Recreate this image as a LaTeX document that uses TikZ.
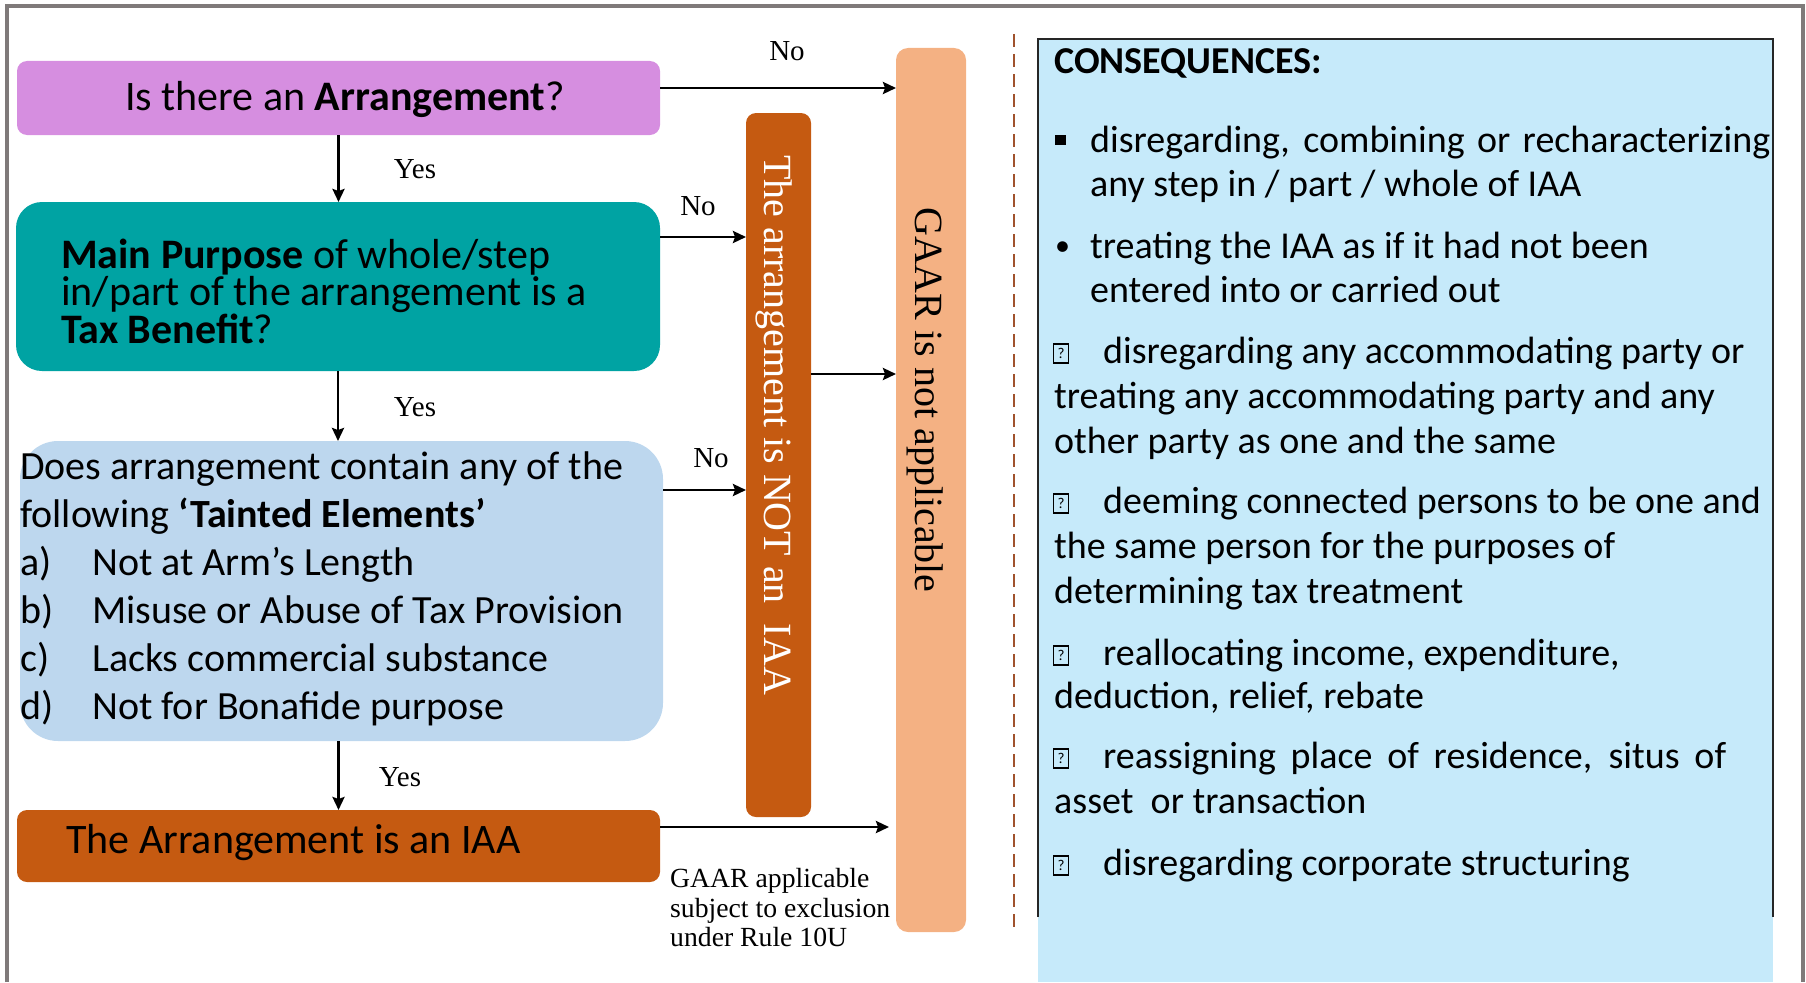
\documentclass[tikz,border=0pt]{standalone}
\usepackage{fontspec}
\setmainfont{Liberation Serif}
\newfontfamily\calfont{Carlito}
\usetikzlibrary{arrows.meta}
\definecolor{pinkbox}{RGB}{214,142,224}
\definecolor{tealbox}{RGB}{0,163,163}
\definecolor{bluebox}{RGB}{189,215,238}
\definecolor{orangebox}{RGB}{197,90,17}
\definecolor{peachbox}{RGB}{244,177,131}
\definecolor{consbox}{RGB}{198,234,250}
\definecolor{framegray}{RGB}{127,122,122}
\definecolor{dashbrown}{RGB}{160,82,45}
\tikzset{
  box/.style={inner sep=0pt, outer sep=0pt, anchor=north west},
  arr/.style={-{Stealth[length=13pt,width=12pt,inset=2pt]}, line width=2.8pt},
  lbl/.style={font=\fontsize{29}{29}\selectfont, inner sep=0pt},
  cal/.style={inner sep=0pt, anchor=base west, font=\calfont\fontsize{#1}{#1}\selectfont},
  vtext/.style={rotate=-90, anchor=base west, inner sep=0pt, font=\fontsize{40}{40}\selectfont},
  small/.style={inner sep=0pt, anchor=base west, font=\fontsize{27.7}{27.7}\selectfont},
  tofu/.style={draw, line width=1.3pt, inner sep=0pt, minimum width=15pt, minimum height=19pt, font=\calfont\fontsize{15}{15}\selectfont},
}
\begin{document}
\begin{tikzpicture}[x=1pt,y=-1pt]
\useasboundingbox (0,0) rectangle (1806,982);
% outer frame
\draw[framegray, line width=4pt] (7,982) -- (7,6) -- (1803,6) -- (1803,982);

% boxes
\node[box, fill=pinkbox, rounded corners=10pt, minimum width=643pt, minimum height=74pt] (pink) at (17,61) {};
\node[box, fill=tealbox, rounded corners=26pt, minimum width=644pt, minimum height=169pt] (teal) at (16,202) {};
\node[box, fill=bluebox, rounded corners=38pt, minimum width=643pt, minimum height=300pt] (blue) at (20,441) {};
\node[box, fill=orangebox, rounded corners=10pt, minimum width=643pt, minimum height=72pt] (iaa) at (17,810) {};
\node[box, fill=orangebox, rounded corners=10pt, minimum width=65pt, minimum height=704pt] (notiaa) at (746,113) {};
\node[box, fill=peachbox, rounded corners=12pt, minimum width=70pt, minimum height=884pt] (gaar) at (896,48) {};

% texts in boxes
\node[cal=42, anchor=base] (tpink) at (345,110) {Is there an \textbf{Arrangement}?};
\node[cal=42] (tteal1) at (61,268) {\textbf{Main Purpose} of whole/step};
\node[cal=42] (tteal2) at (61,305) {in/part of the arrangement is a};
\node[cal=42] (tteal3) at (61,343) {\textbf{Tax Benefit}?};
\node[cal=40] (tblue1) at (20,479) {Does arrangement contain any of the};
\node[cal=40] (tblue2) at (20,527) {following \textbf{‘Tainted Elements’}};
\node[cal=40] (la) at (20,575) {a)};
\node[cal=40] (ta) at (92,575) {Not at Arm’s Length};
\node[cal=40] (lb) at (20,623) {b)};
\node[cal=40] (tb) at (92,623) {Misuse or Abuse of Tax Provision};
\node[cal=40] (lc) at (20,671) {c)};
\node[cal=40] (tc) at (92,671) {Lacks commercial substance};
\node[cal=40] (ld) at (20,719) {d)};
\node[cal=40] (td) at (92,719) {Not for Bonafide purpose};
\node[cal=42] (tiaa) at (66,853) {The Arrangement is an IAA};
\node[vtext, text=white] (tnot) at (764,155) {The arrangement is NOT an\ \ IAA};
\node[vtext] (tgaar) at (915,207) {GAAR is not applicable};

% connectors
\draw[arr] (pink.south) -- (pink.south |- teal.north);
\draw[arr] (teal.south) -- (teal.south |- blue.north);
\draw[arr] (blue.south -| iaa.north) -- (iaa.north);
\draw[arr] ([yshift=10pt]pink.east) -- ([yshift=10pt]pink.east -| gaar.west);
\draw[arr] ([yshift=49.5pt]teal.east) -- ([yshift=49.5pt]teal.east -| notiaa.west);
\draw[arr] ([yshift=101pt]blue.east) -- ([yshift=101pt]blue.east -| notiaa.west);
\draw[arr] ([yshift=91pt]notiaa.east) -- ([yshift=91pt]notiaa.east -| gaar.west);
\coordinate (iaaend) at (889,827);
\draw[arr] ([yshift=19pt]iaa.east) -- (iaaend);

% labels
\node[lbl] (no1) at (787,51) {No};
\node[lbl] (yes1) at (415,169) {Yes};
\node[lbl] (no2) at (698,206) {No};
\node[lbl] (yes2) at (415,407) {Yes};
\node[lbl] (no3) at (711,458) {No};
\node[lbl] (yes3) at (400,777) {Yes};
\node[small] (g1) at (670,887) {GAAR applicable};
\node[small] (g2) at (670,917) {subject to exclusion};
\node[small] (g3) at (670,946) {under Rule 10U};

% dashed separator
\draw[dashbrown, line width=2pt, dash pattern=on 13pt off 7pt] (1014,34) -- (1014,933);

% consequences panel
\fill[consbox] (1038,39) rectangle (1773,982);
\draw[black!85, line width=1.5pt] (1038,917) -- (1038,39) -- (1773,39) -- (1773,917);
\node[cal=38] (ctitle) at (1054,74) {\textbf{CONSEQUENCES:}};
\node[cal=38] (b1) at (1055,152) {\rule[7pt]{11pt}{10pt}};
\node[cal=38] (c1) at (1090,152) {\makebox[680pt][s]{disregarding, combining or recharacterizing}};
\node[cal=38] (c2) at (1090,196) {any step in / part / whole of IAA};
\node[cal=30] (b2) at (1055,255) {•};
\node[cal=38] (c3) at (1090,258) {treating the IAA as if it had not been};
\node[cal=38] (c4) at (1090,302) {entered into or carried out};
\node[tofu] (q1) at (1061,353.5) {?};
\node[cal=38] (c5) at (1103,363) {disregarding any accommodating party or};
\node[cal=38] (c6) at (1054,408) {treating any accommodating party and any};
\node[cal=38] (c7) at (1054,453) {other party as one and the same};
\node[tofu] (q2) at (1061,503.5) {?};
\node[cal=38] (c8) at (1103,513) {deeming connected persons to be one and};
\node[cal=38] (c9) at (1054,558) {the same person for the purposes of};
\node[cal=38] (c10) at (1054,603) {determining tax treatment};
\node[tofu] (q3) at (1061,655.5) {?};
\node[cal=38] (c11) at (1103,665) {reallocating income, expenditure,};
\node[cal=38] (c12) at (1054,708) {deduction, relief, rebate};
\node[tofu] (q4) at (1061,758.5) {?};
\node[cal=38] (c13) at (1103,768) {\makebox[623pt][s]{reassigning place of residence, situs of}};
\node[cal=38] (c14) at (1054,813) {asset\ \ or transaction};
\node[tofu] (q5) at (1061,865.5) {?};
\node[cal=38] (c15) at (1103,875) {disregarding corporate structuring};
\end{tikzpicture}
\end{document}
